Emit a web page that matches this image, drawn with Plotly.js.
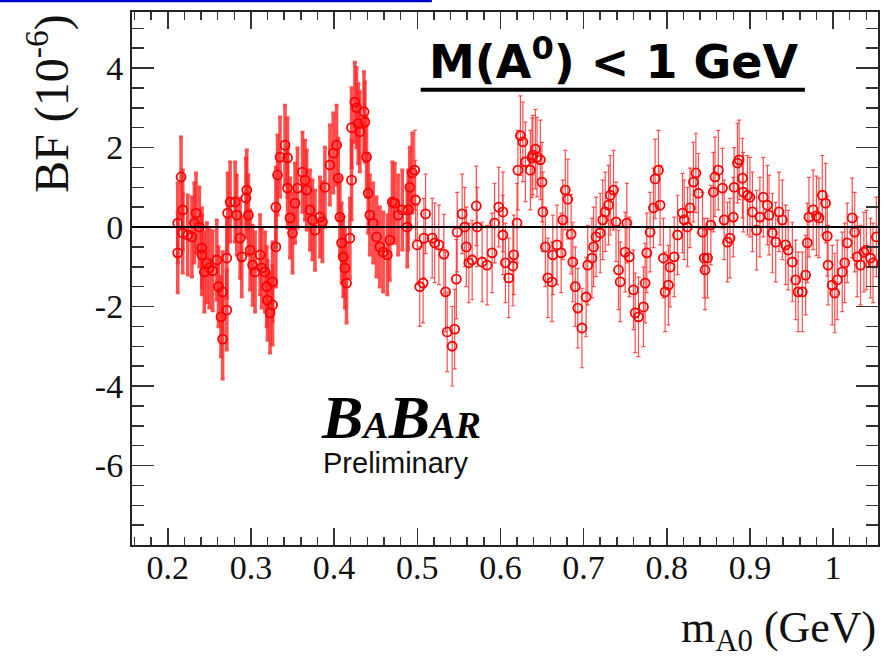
<!DOCTYPE html>
<html>
<head>
<meta charset="utf-8">
<script src="https://cdn.plot.ly/plotly-3.0.1.min.js"></script>
<style>html,body{margin:0;padding:0;background:#fff;}#chart{width:886px;height:663px;}</style>
</head>
<body>
<div id="chart"></div>
<script>
// A0 mass hypothesis (GeV)
const massGeV = [
0.212,0.212,0.216,0.218,0.218,0.224,0.229,0.232,0.234,0.238,0.241,0.241,0.244,0.247,0.250,0.254,0.259,0.261,0.264,0.266,
0.266,0.271,0.271,0.272,0.275,0.281,0.283,0.287,0.289,0.294,0.295,0.297,0.299,0.302,0.305,0.311,0.313,0.317,0.319,0.320,
0.323,0.326,0.326,0.330,0.330,0.332,0.335,0.341,0.344,0.344,0.347,0.350,0.353,0.356,0.362,0.365,0.367,0.371,0.374,0.377,
0.383,0.386,0.389,0.395,0.399,0.403,0.405,0.407,0.409,0.411,0.413,0.415,0.419,0.421,0.421,0.425,0.427,0.429,0.431,0.436,
0.437,0.439,0.441,0.443,0.447,0.451,0.455,0.459,0.464,0.467,0.470,0.473,0.477,0.482,0.488,0.489,0.491,0.494,
0.497,0.498,0.500,0.503,0.507,0.508,0.510,0.518,0.521,0.526,0.532,0.534,0.536,0.542,0.545,0.547,0.548,0.554,0.557,0.559,
0.562,0.566,0.571,0.572,0.578,0.584,0.590,0.593,0.598,0.603,0.603,0.606,0.610,0.615,0.616,0.620,0.621,0.624,0.627,0.630,
0.636,0.638,0.639,0.642,0.644,0.648,0.650,0.651,0.654,0.657,0.662,0.663,0.668,0.673,0.675,0.678,0.681,0.685,0.687,0.690,
0.693,0.698,0.703,0.705,0.710,0.712,0.715,0.720,0.723,0.726,0.730,0.732,0.736,0.739,0.742,0.744,0.750,0.752,0.755,0.760,
0.762,0.766,0.772,0.774,0.776,0.780,0.784,0.786,0.790,0.792,0.796,0.798,0.802,0.804,0.809,0.813,0.819,0.821,0.825,0.828,
0.832,0.835,0.838,0.843,0.845,0.846,0.849,0.853,0.856,0.858,0.862,0.867,0.869,0.873,0.876,0.880,0.881,0.885,0.887,0.891,
0.892,0.897,0.900,0.903,0.908,0.912,0.916,0.921,0.923,0.927,0.931,0.935,0.939,0.943,0.946,0.951,0.955,0.958,0.963,0.967,
0.969,0.971,0.976,0.980,0.983,0.987,0.991,0.993,0.994,0.999,1.002,1.005,1.011,1.014,1.017,1.023,1.026,1.029,1.033,1.037,
1.040,1.045,1.048,1.052
];
// Branching fraction (10^-6)
const bf = [
-0.65,0.10,1.26,0.43,-0.15,-0.20,-0.25,0.10,0.35,0.00,-0.53,-0.70,-1.13,-0.90,-1.03,-1.10,-0.83,-1.50,-2.26,-1.63,
-2.82,-2.09,-0.78,0.35,0.63,0.63,0.30,-0.28,-0.75,0.73,0.93,0.30,-0.58,-0.96,-1.13,-0.70,-1.03,-1.13,-1.50,-1.84,
-2.16,-1.96,-1.38,-0.50,0.50,1.31,1.76,2.06,1.74,0.98,0.23,-0.15,0.60,0.98,1.38,1.18,0.93,0.43,0.18,-0.08,
0.25,0.13,1.00,1.56,1.86,2.06,1.23,0.25,-0.40,-0.75,-1.03,-1.41,-0.28,1.18,2.50,3.14,3.00,2.60,2.40,2.90,
2.64,1.76,0.85,0.30,0.10,-0.25,-0.50,-0.63,-0.70,-0.33,0.63,0.60,0.30,0.43,0.00,0.43,1.00,1.36,
1.43,0.68,-0.45,-1.50,-1.41,-0.28,0.33,-0.28,-0.40,-0.45,-0.68,-1.63,-2.64,-3.00,-2.57,-1.31,-0.13,0.33,0.00,-0.50,
-0.90,-0.83,0.53,0.00,-0.88,-0.96,-0.65,0.10,0.50,0.38,-0.20,-0.90,-1.28,-0.98,-0.70,0.10,1.43,2.30,2.14,1.64,
1.43,1.74,1.81,1.96,1.76,1.69,1.13,0.38,-0.50,-1.28,-1.38,-0.70,-0.45,-0.65,0.18,0.93,0.70,-0.18,-0.88,-1.50,
-2.04,-2.54,-1.76,-0.96,-0.78,-0.50,-0.25,-0.15,0.18,0.38,0.55,0.80,0.93,0.13,-1.08,-1.38,-0.63,0.10,-0.75,-1.58,
-2.16,-2.26,-2.01,-1.41,-0.65,-0.13,0.48,1.21,1.43,0.55,-0.78,-1.63,-1.46,-1.01,-0.75,-0.20,0.35,0.18,0.00,0.48,
1.13,1.36,0.85,-0.13,-0.78,-1.08,-0.78,0.05,0.88,1.26,1.43,0.98,0.18,-0.38,-0.28,0.25,1.00,1.61,1.69,1.23,
0.88,0.80,0.75,0.38,-0.08,0.25,0.75,0.55,0.30,-0.15,-0.38,0.38,0.18,-0.45,-0.58,-0.88,-1.33,-1.63,-1.63,-1.21,
-0.40,0.25,0.43,0.28,0.23,0.80,0.60,-0.23,-0.96,-1.46,-1.66,-1.33,-1.13,-0.90,-0.40,0.23,-0.13,-0.75,-0.96,-0.63,
-0.58,-0.78,-0.90,-0.25
];
// Approximate symmetric uncertainty on BF (10^-6)
const bfErr = 1.0;

const yTickVals = [-6, -4, -2, 0, 2, 4];
const yTickText = ["-6", "-4", "-2", "0", "2", "4"];

const denseLimit = 0.4955; // below this the error bars appear merged (denser scan)
const xD = [], yD = [], xS = [], yS = [];
massGeV.forEach((m, i) => {
  if (m < denseLimit) { xD.push(m); yD.push(bf[i]); } else { xS.push(m); yS.push(bf[i]); }
});

const red = '#ff0000';
function trace(x, y, thick) {
  return {
    x: x, y: y, type: 'scatter', mode: 'markers', cliponaxis: true,
    marker: {symbol: 'circle-open', size: 9, color: red, line: {width: 1.8, color: red}},
    error_y: {type: 'constant', value: bfErr, color: 'rgba(255,40,40,0.82)', thickness: thick, width: 2}
  };
}
const data = [trace(xD, yD, 3.5), trace(xS, yS, 1.2)];

const tickFont = {family: 'Liberation Serif, Times New Roman, serif', size: 34, color: '#111'};
const layout = {
  width: 886, height: 663,
  margin: {l: 132, r: 8, t: 12, b: 118},
  paper_bgcolor: '#fff', plot_bgcolor: '#fff', showlegend: false,
  xaxis: {
    range: [0.157, 1.054], dtick: 0.1, tick0: 0, ticks: 'inside', ticklen: 17, tickwidth: 1.5, tickcolor: '#333',
    showline: true, linecolor: '#222', linewidth: 2, mirror: 'allticks', showgrid: false, zeroline: false,
    tickfont: tickFont, ticklabelstandoff: -9,
    minor: {ticks: 'inside', dtick: 0.02, tick0: 0, ticklen: 8, tickwidth: 1.5, tickcolor: '#333', showgrid: false}
  },
  yaxis: {
    range: [-8.0, 5.41], tickmode: 'array', tickvals: yTickVals, ticktext: yTickText,
    ticks: 'inside', ticklen: 22, tickwidth: 1.5, tickcolor: '#333',
    showline: true, linecolor: '#222', linewidth: 2, mirror: 'allticks', showgrid: false, zeroline: false,
    tickfont: tickFont,
    minor: {ticks: 'inside', dtick: 0.5, tick0: 0, ticklen: 12, tickwidth: 1.5, tickcolor: '#333', showgrid: false}
  },
  shapes: [
    {type: 'line', xref: 'paper', yref: 'y', x0: 0, x1: 1, y0: 0, y1: 0, layer: 'above', line: {color: '#000', width: 2}},
    {type: 'line', xref: 'paper', yref: 'paper', x0: 0.387, x1: 0.902, y0: 0.854, y1: 0.854, line: {color: '#000', width: 4}},
    {type: 'line', xref: 'paper', yref: 'paper', x0: -0.18, x1: 0.402, y0: 1.021, y1: 1.021, line: {color: '#0000cc', width: 3}}
  ],
  annotations: [
    {xref: 'paper', yref: 'paper', x: -0.112, y: 1.0, xanchor: 'center', yanchor: 'top', textangle: -90, showarrow: false,
     text: 'BF (10<sup>-6</sup>)', font: {family: 'Liberation Serif, serif', size: 48, color: '#111'}},
    {xref: 'paper', yref: 'paper', x: 1.0, y: -0.16, xanchor: 'right', yanchor: 'middle', showarrow: false,
     text: 'm<sub>A0</sub> (GeV)', font: {family: 'Liberation Serif, serif', size: 44, color: '#111'}},
    {xref: 'paper', yref: 'paper', x: 0.645, y: 0.912, xanchor: 'center', yanchor: 'middle', showarrow: false,
     text: '<b>M(A<sup>0</sup>) &lt; 1 GeV</b>', font: {family: 'Comic Sans MS, DejaVu Sans, sans-serif', size: 46, color: '#000'}},
    {xref: 'paper', yref: 'paper', x: 0.361, y: 0.24, xanchor: 'center', yanchor: 'middle', showarrow: false,
     text: '<b><i>B<span style="font-size:38px">A</span>B<span style="font-size:38px">AR</span></i></b>',
     font: {family: 'Liberation Serif, serif', size: 62, color: '#000'}},
    {xref: 'paper', yref: 'paper', x: 0.354, y: 0.154, xanchor: 'center', yanchor: 'middle', showarrow: false,
     text: 'Preliminary', font: {family: 'Liberation Sans, Arial, sans-serif', size: 29, color: '#111'}}
  ]
};
Plotly.newPlot('chart', data, layout, {displayModeBar: false, staticPlot: true});
</script>
</body>
</html>
